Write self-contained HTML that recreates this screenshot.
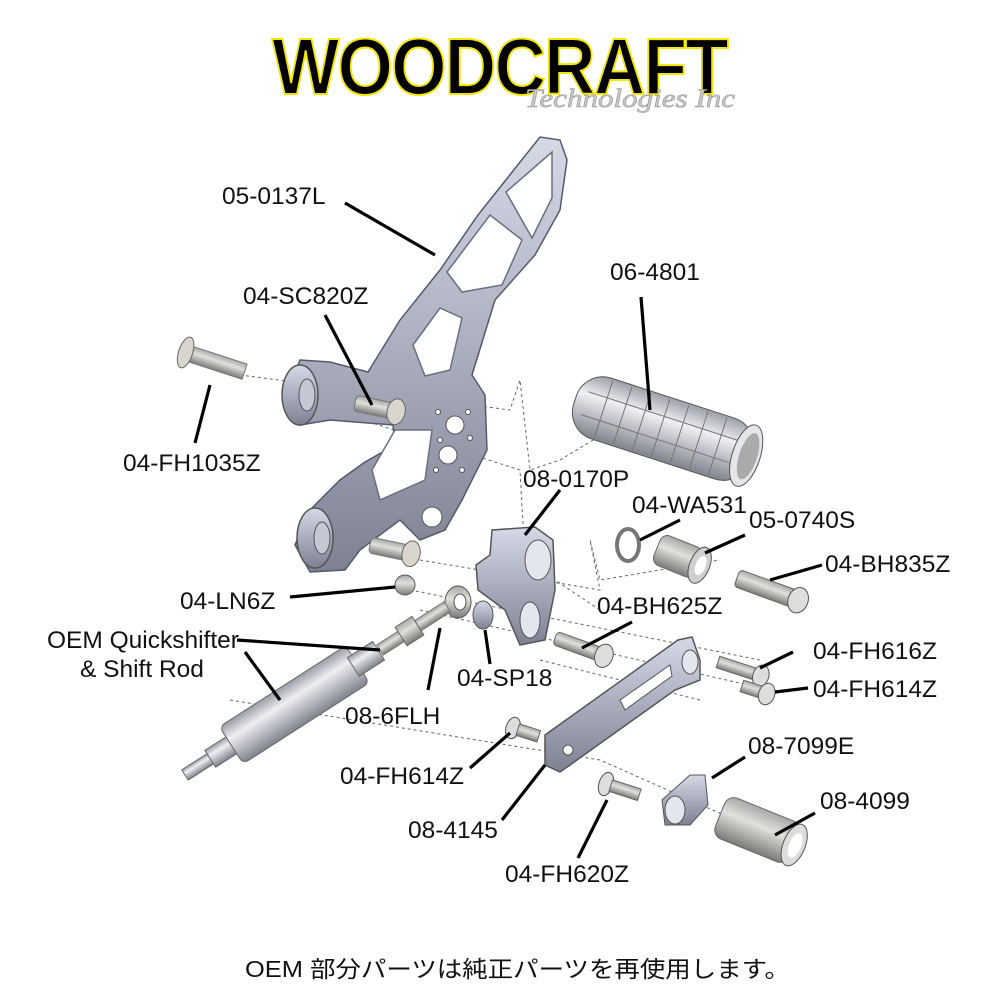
<!DOCTYPE html>
<html><head><meta charset="utf-8"><style>
html,body{margin:0;padding:0;background:#fff}
svg{display:block}
text{font-family:"Liberation Sans",Arial,sans-serif;font-size:24.5px;fill:#111}
</style></head><body>
<svg width="1000" height="1000" viewBox="0 0 1000 1000">
<defs>
<linearGradient id="g" x1="0" y1="0" x2="0" y2="1"><stop offset="0" stop-color="#d6d9e6"/><stop offset="0.5" stop-color="#a9adbd"/><stop offset="1" stop-color="#7d8192"/></linearGradient>
<linearGradient id="c" x1="0" y1="0" x2="0" y2="1"><stop offset="0" stop-color="#9c9ea6"/><stop offset="0.35" stop-color="#eeeff3"/><stop offset="1" stop-color="#80828c"/></linearGradient>
<linearGradient id="s" x1="0" y1="0" x2="0" y2="1"><stop offset="0" stop-color="#a8a8a8"/><stop offset="0.4" stop-color="#e0e0dc"/><stop offset="1" stop-color="#7a7a78"/></linearGradient>
</defs>

<!-- logo -->
<text x="272" y="94" style="font-family:'Liberation Sans',sans-serif;font-weight:900;font-size:80px;fill:#000;stroke:#f2e600;stroke-width:2;letter-spacing:-2px" textLength="455" lengthAdjust="spacingAndGlyphs">WOODCRAFT</text>
<text x="525" y="107" style="font-family:'Liberation Serif',serif;font-style:italic;font-size:26px;fill:#c9c9c9;stroke:#999;stroke-width:0.6" textLength="210" lengthAdjust="spacingAndGlyphs">Technologies Inc</text>

<!-- dashed assembly lines -->
<g stroke="#666" stroke-width="1" stroke-dasharray="3,3" fill="none">
<polyline points="240,375 510,410 520,380 530,470 560,460 610,430"/>
<polyline points="300,400 520,470 525,560 600,610"/>
<polyline points="420,560 600,590 590,540 600,580 720,560"/>
<polyline points="410,590 760,660"/>
<polyline points="420,610 770,690"/>
<polyline points="540,660 700,700"/>
<polyline points="230,700 600,760 690,800 780,840"/>
</g>

<!-- main bracket -->
<path d="M300,360 L330,362 L368,372 L400,320 L440,270 L478,215 L540,137 L560,140 L567,160 L560,210 L535,255 L495,300 L472,375 L485,395 L487,450 L462,500 L445,530 L420,540 L400,520 L360,550 L345,570 L310,572 L295,545 L310,510 L340,480 L365,462 L395,445 L393,425 L330,420 L300,425 L285,400 Z" fill="url(#g)" stroke="#555a6a" stroke-width="1.5"/>
<g fill="#fff" stroke="#6a6f80" stroke-width="1.5">
<path d="M506,192 L552,152 L552,198 L532,238 Z"/>
<path d="M447,272 L490,215 L522,240 L502,285 L462,292 Z"/>
<path d="M413,345 L440,308 L462,318 L450,370 L425,376 Z"/>
<path d="M395,430 L432,430 L425,480 L380,500 L372,470 Z"/>
</g>
<g fill="#fff" stroke="#555" stroke-width="1">
<circle cx="455" cy="425" r="9"/><circle cx="448" cy="455" r="9"/>
<circle cx="438" cy="412" r="2.5"/><circle cx="468" cy="412" r="2.5"/><circle cx="470" cy="438" r="2.5"/><circle cx="440" cy="440" r="2.5"/><circle cx="436" cy="470" r="2.5"/><circle cx="462" cy="470" r="2.5"/>
<circle cx="432" cy="517" r="10"/>
</g>
<ellipse cx="300" cy="395" rx="18" ry="30" fill="url(#g)" stroke="#555" stroke-width="1.5"/>
<ellipse cx="307" cy="395" rx="8" ry="16" fill="#c4c7d4" stroke="#555"/>
<ellipse cx="315" cy="538" rx="18" ry="30" fill="url(#g)" stroke="#555" stroke-width="1.5"/>
<ellipse cx="322" cy="538" rx="8" ry="16" fill="#c4c7d4" stroke="#555"/>

<g transform="translate(355,403) rotate(12)"><rect x="0" y="-8" width="40" height="16" rx="4" fill="url(#s)" stroke="#777"/><ellipse cx="42" cy="0" rx="9" ry="13" fill="#d8d6cc" stroke="#666"/></g>
<g transform="translate(370,545) rotate(12)"><rect x="0" y="-8" width="40" height="16" rx="4" fill="url(#s)" stroke="#777"/><ellipse cx="42" cy="0" rx="9" ry="13" fill="#d8d6cc" stroke="#666"/></g>
<g transform="translate(178,350) rotate(18)"><rect x="10" y="-8" width="60" height="16" fill="url(#s)" stroke="#777"/><ellipse cx="8" cy="0" rx="7" ry="16" fill="#d8d6cc" stroke="#666"/></g>

<!-- grip -->
<g transform="translate(575,400) rotate(18)">
<rect x="0" y="-32" width="185" height="64" rx="28" fill="url(#c)" stroke="#555"/>
<g stroke="#777" fill="none"><path d="M30,-30v60M50,-30v60M70,-30v60M90,-30v60M110,-30v60M130,-30v60M150,-30v60M10,-12h160M10,12h160"/></g>
<ellipse cx="180" cy="0" rx="14" ry="32" fill="#e6e6ea" stroke="#555"/>
<ellipse cx="182" cy="0" rx="9" ry="24" fill="#aaa"/>
</g>

<!-- 08-0170P -->
<path d="M492,530 L535,527 L553,540 L555,590 L545,640 L520,645 L505,610 L478,590 L476,565 L490,555 Z" fill="url(#g)" stroke="#555" stroke-width="1.5"/>
<ellipse cx="538" cy="560" rx="13" ry="20" fill="#e4e6ef" stroke="#555"/>
<ellipse cx="530" cy="620" rx="10" ry="18" fill="#e4e6ef" stroke="#555"/>
<ellipse cx="483" cy="615" rx="10" ry="14" fill="url(#g)" stroke="#555"/>

<ellipse cx="628" cy="545" rx="11" ry="16" fill="none" stroke="#777" stroke-width="4"/>
<g transform="translate(657,548) rotate(22)"><rect x="0" y="-16" width="45" height="32" rx="8" fill="url(#s)" stroke="#666"/><ellipse cx="46" cy="0" rx="10" ry="19" fill="#cfcfcf" stroke="#555"/><ellipse cx="47" cy="0" rx="5" ry="10" fill="#fff"/></g>
<g transform="translate(737,578) rotate(20)"><rect x="0" y="-9" width="62" height="18" rx="4" fill="url(#s)" stroke="#666"/><ellipse cx="65" cy="0" rx="10" ry="13" fill="#ddd" stroke="#555"/></g>
<g transform="translate(555,638) rotate(20)"><rect x="0" y="-7" width="50" height="14" rx="4" fill="url(#s)" stroke="#666"/><ellipse cx="52" cy="0" rx="9" ry="12" fill="#ddd" stroke="#555"/></g>
<g transform="translate(718,662) rotate(18)"><rect x="0" y="-6" width="40" height="12" fill="url(#s)" stroke="#666"/><ellipse cx="45" cy="0" rx="8" ry="11" fill="#ddd" stroke="#555"/></g>
<g transform="translate(742,686) rotate(18)"><rect x="0" y="-6" width="20" height="12" fill="url(#s)" stroke="#666"/><ellipse cx="26" cy="0" rx="8" ry="11" fill="#ddd" stroke="#555"/></g>
<g transform="translate(513,728) rotate(18)"><ellipse cx="0" cy="0" rx="7" ry="11" fill="#ddd" stroke="#555"/><rect x="5" y="-6" width="22" height="12" fill="url(#s)" stroke="#666"/></g>
<g transform="translate(606,784) rotate(18)"><ellipse cx="0" cy="0" rx="7" ry="12" fill="#ddd" stroke="#555"/><rect x="5" y="-6" width="30" height="12" fill="url(#s)" stroke="#666"/></g>

<!-- arm -->
<path d="M545,735 L678,640 L692,637 L700,660 L700,680 L675,690 L570,765 L560,772 L545,765 Z" fill="url(#g)" stroke="#555" stroke-width="1.5"/>
<path d="M620,700 L670,665 L672,676 L625,710 Z" fill="#fff" stroke="#555"/>
<ellipse cx="690" cy="662" rx="8" ry="12" fill="#e4e6ef" stroke="#555"/>
<circle cx="568" cy="750" r="5" fill="#fff" stroke="#555"/>

<path d="M662,800 L690,775 L705,775 L708,805 L690,825 L665,825 Z" fill="url(#g)" stroke="#555"/>
<ellipse cx="675" cy="810" rx="10" ry="14" fill="#e4e6ef" stroke="#555"/>
<g transform="translate(720,815) rotate(22)"><rect x="0" y="-22" width="80" height="44" rx="10" fill="url(#s)" stroke="#666"/><ellipse cx="80" cy="0" rx="11" ry="22" fill="#ddd" stroke="#555"/><ellipse cx="81" cy="0" rx="6" ry="13" fill="#fff"/></g>

<ellipse cx="405" cy="585" rx="10" ry="10" fill="url(#s)" stroke="#555"/>
<ellipse cx="458" cy="602" rx="13" ry="16" fill="url(#s)" stroke="#555"/><ellipse cx="460" cy="602" rx="6" ry="8" fill="#fff" stroke="#555"/>
<g transform="translate(380,650) rotate(-32.7)"><rect x="0" y="-6" width="80" height="12" fill="url(#s)" stroke="#777"/><rect x="25" y="-11" width="20" height="22" fill="url(#s)" stroke="#666"/></g>

<g transform="translate(185,775) rotate(-32.7)">
<rect x="0" y="-6" width="40" height="12" fill="url(#c)" stroke="#666"/>
<rect x="30" y="-10" width="30" height="20" fill="url(#c)" stroke="#666"/>
<rect x="55" y="-22" width="150" height="44" rx="6" fill="url(#c)" stroke="#666"/>
<rect x="200" y="-11" width="30" height="22" fill="url(#c)" stroke="#666"/>
</g>

<g stroke="#000" stroke-width="3.2" fill="none">
<path d="M345,203L435,255"/><path d="M325,315L372,405"/><path d="M641,297L650,410"/>
<path d="M195,443L210,385"/><path d="M560,490L525,535"/><path d="M680,520L640,540"/>
<path d="M745,535L705,553"/><path d="M822,565L770,580"/><path d="M290,597L395,587"/>
<path d="M632,622L582,648"/><path d="M237,640L380,650"/><path d="M245,652L280,700"/>
<path d="M793,652L760,668"/><path d="M490,664L485,630"/><path d="M808,688L775,692"/>
<path d="M428,690L440,628"/><path d="M745,757L712,778"/><path d="M470,768L510,733"/>
<path d="M815,813L775,835"/><path d="M502,820L545,765"/><path d="M578,858L607,800"/>
</g>

<text x="222" y="204">05-0137L</text>
<text x="243" y="304">04-SC820Z</text>
<text x="610" y="280">06-4801</text>
<text x="123" y="471">04-FH1035Z</text>
<text x="523" y="487">08-0170P</text>
<text x="632" y="513">04-WA531</text>
<text x="749" y="528">05-0740S</text>
<text x="825" y="572">04-BH835Z</text>
<text x="180" y="609">04-LN6Z</text>
<text x="597" y="614">04-BH625Z</text>
<text x="47" y="648">OEM Quickshifter</text>
<text x="80" y="677">&amp; Shift Rod</text>
<text x="813" y="659">04-FH616Z</text>
<text x="457" y="686">04-SP18</text>
<text x="813" y="697">04-FH614Z</text>
<text x="345" y="724">08-6FLH</text>
<text x="748" y="754">08-7099E</text>
<text x="340" y="784">04-FH614Z</text>
<text x="820" y="809">08-4099</text>
<text x="408" y="838">08-4145</text>
<text x="505" y="882">04-FH620Z</text>

<text x="245" y="977" style="font-family:'Liberation Sans','Noto Sans CJK JP',sans-serif;font-size:23px" textLength="545" lengthAdjust="spacingAndGlyphs">OEM 部分パーツは純正パーツを再使用します。</text>
</svg>
</body></html>
